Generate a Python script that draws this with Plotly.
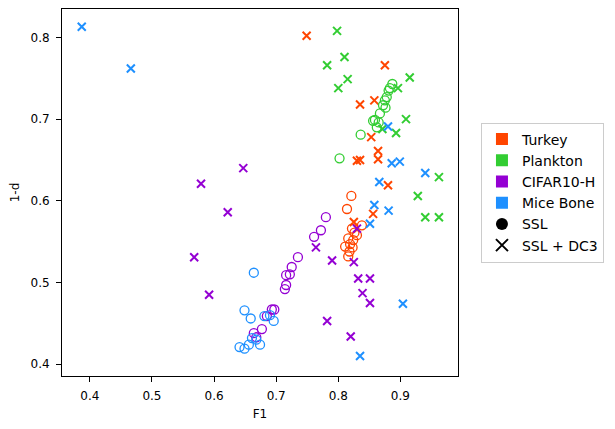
import plotly.graph_objects as go

# Turkey
turkey_ssl_f1 = [0.821, 0.814, 0.838, 0.822, 0.830, 0.816, 0.824, 0.811, 0.823, 0.818, 0.816, 0.826, 0.819]
turkey_ssl_d = [0.606, 0.590, 0.570, 0.566, 0.558, 0.554, 0.552, 0.544, 0.543, 0.538, 0.532, 0.561, 0.547]
turkey_dc3_f1 = [0.749, 0.875, 0.835, 0.858, 0.853, 0.830, 0.835, 0.864, 0.864, 0.880, 0.856, 0.825]
turkey_dc3_d = [0.802, 0.766, 0.718, 0.723, 0.678, 0.649, 0.650, 0.661, 0.651, 0.619, 0.584, 0.574]

# Plankton
plankton_ssl_f1 = [0.802, 0.836, 0.859, 0.856, 0.862, 0.867, 0.872, 0.876, 0.875, 0.878, 0.881, 0.883, 0.887, 0.865]
plankton_ssl_d = [0.652, 0.681, 0.699, 0.698, 0.690, 0.707, 0.717, 0.714, 0.723, 0.727, 0.735, 0.738, 0.743, 0.696]
plankton_dc3_f1 = [0.798, 0.810, 0.782, 0.815, 0.800, 0.915, 0.896, 0.909, 0.893, 0.871, 0.962, 0.928, 0.940, 0.962]
plankton_dc3_d = [0.808, 0.776, 0.766, 0.749, 0.738, 0.751, 0.738, 0.700, 0.683, 0.688, 0.629, 0.606, 0.580, 0.580]

# CIFAR10-H
cifar_ssl_f1 = [0.780, 0.772, 0.761, 0.735, 0.725, 0.722, 0.716, 0.716, 0.714, 0.693, 0.697, 0.685, 0.677, 0.664, 0.668]
cifar_ssl_d = [0.580, 0.564, 0.556, 0.531, 0.519, 0.510, 0.509, 0.497, 0.492, 0.467, 0.467, 0.459, 0.443, 0.438, 0.433]
cifar_dc3_f1 = [0.647, 0.579, 0.622, 0.568, 0.592, 0.764, 0.790, 0.825, 0.830, 0.832, 0.851, 0.839, 0.851, 0.782, 0.820]
cifar_dc3_d = [0.640, 0.621, 0.586, 0.531, 0.485, 0.543, 0.527, 0.525, 0.566, 0.505, 0.505, 0.487, 0.475, 0.453, 0.434]

# Mice Bone
mice_ssl_f1 = [0.664, 0.649, 0.659, 0.681, 0.690, 0.696, 0.661, 0.668, 0.674, 0.656, 0.641, 0.649]
mice_ssl_d = [0.512, 0.466, 0.456, 0.459, 0.460, 0.453, 0.432, 0.430, 0.424, 0.424, 0.421, 0.419]
mice_dc3_f1 = [0.387, 0.466, 0.880, 0.886, 0.899, 0.940, 0.866, 0.858, 0.881, 0.851, 0.904, 0.835]
mice_dc3_d = [0.813, 0.762, 0.691, 0.646, 0.648, 0.634, 0.623, 0.595, 0.588, 0.572, 0.474, 0.410]

datasets = [
    ("Turkey", "#FF4500", turkey_ssl_f1, turkey_ssl_d, turkey_dc3_f1, turkey_dc3_d),
    ("Plankton", "#32CD32", plankton_ssl_f1, plankton_ssl_d, plankton_dc3_f1, plankton_dc3_d),
    ("CIFAR10-H", "#9400D3", cifar_ssl_f1, cifar_ssl_d, cifar_dc3_f1, cifar_dc3_d),
    ("Mice Bone", "#1E90FF", mice_ssl_f1, mice_ssl_d, mice_dc3_f1, mice_dc3_d),
]

fig = go.Figure()
for name, color, sx, sy, dx, dy in datasets:
    fig.add_trace(go.Scatter(
        x=sx, y=sy, mode="markers", showlegend=False,
        marker=dict(symbol="circle-open", size=9, color=color, line=dict(width=1.3, color=color)),
    ))
    fig.add_trace(go.Scatter(
        x=dx, y=dy, mode="markers", showlegend=False,
        marker=dict(symbol="x-thin", size=8, color=color, line=dict(width=2, color=color)),
    ))

# legend-only entries
for name, color, *_ in datasets:
    fig.add_trace(go.Scatter(
        x=[None], y=[None], mode="markers", name=name,
        marker=dict(symbol="square", size=10, color=color),
    ))
fig.add_trace(go.Scatter(
    x=[None], y=[None], mode="markers", name="SSL",
    marker=dict(symbol="circle", size=10, color="black"),
))
fig.add_trace(go.Scatter(
    x=[None], y=[None], mode="markers", name="SSL + DC3",
    marker=dict(symbol="x-thin", size=8, color="black", line=dict(width=1.3, color="black")),
))

axis_style = dict(
    showgrid=False, zeroline=False, showline=True, linecolor="black", linewidth=1,
    mirror=True, ticks="outside", ticklen=5, tickcolor="black",
    ticklabelstandoff=4,
    tickfont=dict(size=12, color="black"),
)

# the page body keeps an 8px margin; the figure is shrunk so the page does not overflow
fig.update_layout(
    width=599, height=413,
    margin=dict(l=54, r=149, t=1, b=45),
    paper_bgcolor="white", plot_bgcolor="white",
    font=dict(family="DejaVu Sans", size=12, color="black"),
    xaxis=dict(range=[0.3552, 0.9927], tickvals=[0.4, 0.5, 0.6, 0.7, 0.8, 0.9],
               ticktext=["0.4", "0.5", "0.6", "0.7", "0.8", "0.9"],
               title=dict(text="F1", font=dict(size=12), standoff=8), **axis_style),
    yaxis=dict(range=[0.3856, 0.8348], tickvals=[0.4, 0.5, 0.6, 0.7, 0.8],
               ticktext=["0.4", "0.5", "0.6", "0.7", "0.8"],
               title=dict(text="1-d", font=dict(size=12), standoff=8), **axis_style),
    legend=dict(x=1.058, y=0.5, xanchor="left", yanchor="middle",
                bordercolor="#cccccc", borderwidth=1, bgcolor="white",
                font=dict(size=14), tracegroupgap=0, itemsizing="constant"),
)

fig.write_html("out.html")
